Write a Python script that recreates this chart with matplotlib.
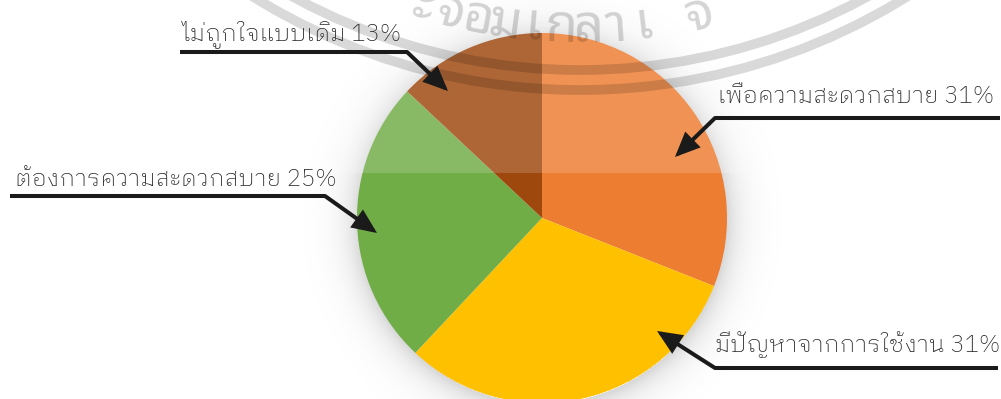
import numpy as np
import matplotlib
matplotlib.use("Agg")
import matplotlib.pyplot as plt
from matplotlib.patches import Rectangle, Circle

# เหตุผลในการเปลี่ยน (ร้อยละ)
labels = ["เพื่อความสะดวกสบาย", "มีปัญหาจากการใช้งาน", "ต้องการความสะดวกสบาย", "ไม่ถูกใจแบบเดิม"]
shares = [31, 31, 25, 13]
colors = ["#ED7D31", "#FFC000", "#70AD47", "#9E480E"]

# ตำแหน่งป้ายกำกับ (พิกัดพิกเซล): ข้อความ, เส้นแนวนอน, หัวลูกศร
label_pos = [(718, 103), (715, 352), (15, 186), (182, 40)]
leader_x = [(715, 1000), (715, 998), (10, 325), (180, 407)]
leader_y = [118, 368, 196, 52]
elbow_x = [715, 715, 325, 407]
arrow_tip = [(675, 157), (657, 331), (377, 233), (448, 91)]

# ส่วนของลายน้ำที่อยู่ในกรอบภาพ
watermark = ["ะ", "จ", "อ", "ม", "เ", "ก", "ล", "า", "เ", "", "จ"]

W, H = 1001, 399
CX, CY, R = 542, 218, 185
THAI = ["IBM Plex Sans Thai Looped", "DejaVu Sans"]

fig = plt.figure(figsize=(W / 100, H / 100), dpi=100)
ax = fig.add_axes([0, 0, 1, 1])

# เงาฟุ้งรอบวงกลม
yy, xx = np.mgrid[0:H, 0:W]
rr = np.hypot(xx - CX, yy - CY - 2)
glow = np.clip(0.15 * np.exp(-np.clip(rr - R, 0, None) / 15.0), 0, 1)
glow[rr < R - 2] = 0
shadow = np.zeros((H, W, 4))
shadow[..., 3] = glow
ax.imshow(shadow, extent=(0, W, H, 0), zorder=0, interpolation="bilinear")

wedges, _ = ax.pie(shares, colors=colors, startangle=-90, counterclock=True,
                   center=(CX, CY), radius=R, frame=True,
                   wedgeprops=dict(linewidth=0, zorder=1))

# แถบจางด้านบน
ax.add_patch(Rectangle((0, 0), W, 173, facecolor="white", alpha=0.17,
                       edgecolor="none", zorder=2))

# ลายน้ำตราสถาบัน
WX, WY = 580, -530
for rad in (600, 620):
    ax.add_patch(Circle((WX, WY), rad, fill=False, edgecolor="black",
                        linewidth=7, alpha=0.15, zorder=3))
rt = 572
step = 28.5 / rt
start = np.arcsin((420 - WX) / rt)
for i, ch in enumerate(watermark):
    if not ch:
        continue
    phi = start + i * step
    px = WX + rt * np.sin(phi)
    py = WY + rt * np.cos(phi)
    ax.text(px, py, ch, fontsize=38, family=["Noto Sans Thai Looped"],
            color="black", alpha=0.17, rotation=np.degrees(phi),
            rotation_mode="anchor", ha="center", va="baseline",
            zorder=3, clip_on=True)

# ป้ายกำกับพร้อมเส้นชี้
for i in range(len(labels)):
    tx, ty = label_pos[i]
    ax.text(tx, ty, f"{labels[i]} {shares[i]}%", fontsize=17.2, family=THAI,
            fontweight="light", color="#262626", ha="left", va="baseline",
            zorder=5)
    ax.plot(leader_x[i], [leader_y[i]] * 2, color="#1a1a1a", lw=2.9,
            solid_capstyle="butt", zorder=5)
    ax.annotate("", xy=arrow_tip[i], xytext=(elbow_x[i], leader_y[i]),
                arrowprops=dict(arrowstyle="-|>,head_length=0.5,head_width=0.22",
                                mutation_scale=26, lw=2.9, color="#1a1a1a",
                                shrinkA=0, shrinkB=0, joinstyle="miter"),
                zorder=5)

ax.set_xlim(0, W)
ax.set_ylim(H, 0)
ax.set_aspect("auto")
ax.axis("off")

fig.savefig("out.png", dpi=100, facecolor="white")
